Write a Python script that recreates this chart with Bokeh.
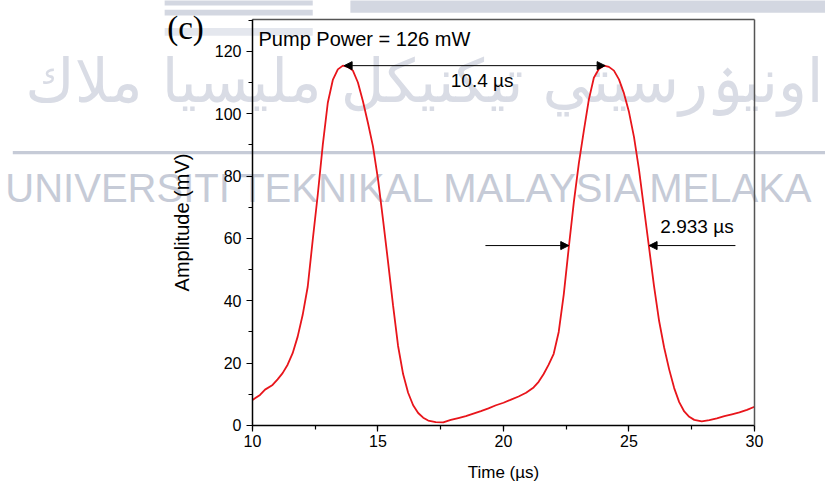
from bokeh.plotting import figure
from bokeh.models import (Range1d, SingleIntervalTicker, FixedTicker, LinearAxis, Label, Arrow,
                          NormalHead, BoxAnnotation, ColumnDataSource)
from bokeh.embed import file_html
from bokeh.resources import INLINE

# ---- data ----
time_us = [10.0, 10.3, 10.5, 10.8, 11.0, 11.2, 11.4, 11.6, 11.8, 12.0, 12.2, 12.4, 12.6, 12.8,
           13.0, 13.2, 13.4, 13.6, 13.8, 14.0, 14.2, 14.4, 14.6, 14.8, 15.0, 15.2, 15.4, 15.6,
           15.8, 16.0, 16.2, 16.4, 16.6, 16.8, 17.0, 17.3, 17.6, 17.9, 18.2, 18.5, 18.8, 19.1,
           19.4, 19.7, 20.0, 20.3, 20.6, 20.9, 21.2, 21.4, 21.6, 21.8, 22.0, 22.2, 22.4, 22.6,
           22.8, 23.0, 23.2, 23.4, 23.6, 23.8, 24.0, 24.2, 24.4, 24.6, 24.8, 25.0, 25.2, 25.4,
           25.6, 25.8, 26.0, 26.2, 26.4, 26.6, 26.8, 27.0, 27.2, 27.4, 27.6, 27.9, 28.2, 28.5,
           28.8, 29.1, 29.4, 29.7, 30.0]
amplitude_mv = [8.2, 9.8, 11.5, 13.0, 14.8, 16.8, 19.5, 23.2, 28.5, 35.5, 44.5, 59.5, 74.0, 90.0,
                103.5, 110.8, 114.2, 115.4, 115.0, 113.8, 110.0, 104.0, 97.0, 89.5, 79.0, 66.0, 52.5, 38.5,
                25.5, 16.5, 10.5, 6.5, 4.0, 2.5, 1.6, 1.1, 1.0, 1.8, 2.4, 3.0, 3.8, 4.6,
                5.5, 6.5, 7.3, 8.3, 9.3, 10.5, 12.2, 14.0, 16.5, 19.5, 23.0, 30.0, 42.0, 57.0,
                71.5, 84.0, 94.5, 104.5, 111.5, 114.3, 115.4, 115.0, 113.8, 111.0, 106.5, 100.5, 92.5, 82.0,
                69.5, 57.0, 44.5, 33.5, 25.0, 18.0, 12.0, 7.5, 4.5, 2.8, 1.8, 1.3, 1.7, 2.3,
                3.0, 3.6, 4.2, 5.0, 6.0]

x_bounds = (10, 30)
y_bounds = (0, 130.2)
peak_times = [13.65, 24.05]
peak_level = 115.4
fwhm_left, fwhm_right = 22.6, 25.8
half_level = 57.7
period_label = "10.4 µs"
fwhm_label = "2.933 µs"
power_label = "Pump Power = 126 mW"
panel_label = "(c)"
watermark_latin = "UNIVERSITI TEKNIKAL MALAYSIA MELAKA"
watermark_jawi = "اونيۏرسيتي تيكنيكل مليسيا ملاك"

FONT = "Liberation Sans"

# The frame covers the whole page so that the panel label and the watermark,
# which lie outside the axes box, are not clipped; the axes sit at fixed places.
p = figure(width=825, height=488, output_backend="svg", toolbar_location=None, title=None,
           x_range=Range1d(-0.0398, 32.8287), y_range=Range1d(-20.203, 136.29),
           x_axis_location=None, y_axis_location=None, min_border=0)
p.background_fill_color = "white"
p.border_fill_color = "white"
p.grid.visible = False
p.outline_line_color = None

# ---- watermark / banner remnants ----
wm_col = "#c6cbd7"
band_col = "#d3d7e1"
for (l, r, b, t, c) in [(6.5, 12.4, 134.7, 137.0, band_col),
                        (6.5, 12.4, 131.5, 133.3, band_col),
                        (13.9, 33.0, 132.4, 137.0, band_col),
                        (6.5, 12.4, 125.0, 127.5, "#e4e7ee")]:
    p.add_layout(BoxAnnotation(left=l, right=r, bottom=b, top=t, fill_color=c,
                               fill_alpha=1.0, line_color=None, level="underlay"))
p.add_layout(BoxAnnotation(left=0.45, right=33.0, bottom=87.0, top=88.0, fill_color=wm_col,
                           fill_alpha=1.0, line_color=None, level="underlay"))
p.add_layout(Label(x=16.3, y=76.3, text=watermark_latin,
                   text_align="center", text_baseline="middle", text_font=FONT,
                   text_font_size="40px", text_color=wm_col, level="underlay"))
p.add_layout(Label(x=32.75, y=110.6, text=watermark_jawi,
                   text_align="right", text_baseline="middle", text_font="DejaVu Sans",
                   text_font_size="60px", text_color="#d9dce5", level="underlay"))

# ---- curve ----
src = ColumnDataSource(dict(t=time_us, a=amplitude_mv))
p.line("t", "a", source=src, line_color="#e8151b", line_width=1.8)

# ---- axes ----
def style(ax):
    ax.axis_line_color = "black"
    ax.axis_line_width = 1.5
    ax.major_tick_line_color = "black"
    ax.minor_tick_line_color = "black"
    ax.major_tick_line_width = 1.2
    ax.minor_tick_line_width = 1.2
    ax.major_tick_out = 6
    ax.major_tick_in = 0
    ax.minor_tick_out = 4
    ax.minor_tick_in = 0
    ax.major_label_text_font = FONT
    ax.major_label_text_font_size = "16px"
    ax.major_label_text_color = "black"
    ax.axis_label_text_font = FONT
    ax.axis_label_text_font_style = "normal"
    ax.axis_label_text_color = "black"

xaxis = LinearAxis(fixed_location=y_bounds[0], bounds=x_bounds,
                   ticker=SingleIntervalTicker(interval=5, num_minor_ticks=2),
                   axis_label="Time (µs)")
style(xaxis)
xaxis.major_label_standoff = 4
xaxis.axis_label_text_font_size = "17px"
xaxis.axis_label_standoff = 12
p.add_layout(xaxis, "below")

yaxis = LinearAxis(fixed_location=x_bounds[0], bounds=y_bounds,
                   ticker=SingleIntervalTicker(interval=20, num_minor_ticks=2),
                   axis_label="Amplitude (mV)")
style(yaxis)
yaxis.major_label_standoff = 5
yaxis.axis_label_text_font_size = "20px"
yaxis.axis_label_standoff = 19
p.add_layout(yaxis, "left")

# box edges (top and right) as bare axes
top = LinearAxis(fixed_location=y_bounds[1], bounds=x_bounds, ticker=FixedTicker(ticks=[]),
                 axis_line_color="#555555", axis_line_width=1.5, major_label_text_font_size="0px")
p.add_layout(top, "above")
right = LinearAxis(fixed_location=x_bounds[1], bounds=y_bounds, ticker=FixedTicker(ticks=[]),
                   axis_line_color="#555555", axis_line_width=1.5, major_label_text_font_size="0px")
p.add_layout(right, "right")

# ---- annotations ----
def head():
    return NormalHead(size=8, fill_color="black", line_color="black", line_width=1)

p.add_layout(Arrow(start=head(), end=head(), x_start=peak_times[0], y_start=peak_level,
                   x_end=peak_times[1], y_end=peak_level, line_color="black", line_width=1))
p.add_layout(Arrow(end=head(), x_start=19.28, y_start=half_level, x_end=fwhm_left,
                   y_end=half_level, line_color="black", line_width=1))
p.add_layout(Arrow(end=head(), x_start=29.24, y_start=half_level, x_end=fwhm_right,
                   y_end=half_level, line_color="black", line_width=1))

p.add_layout(Label(x=17.9, y=110.6, text=period_label, text_align="left", text_baseline="middle",
                   text_font=FONT, text_font_size="19px", text_color="black"))
p.add_layout(Label(x=26.25, y=63.8, text=fwhm_label, text_align="left", text_baseline="middle",
                   text_font=FONT, text_font_size="19px", text_color="black"))
p.add_layout(Label(x=10.24, y=124.1, text=power_label, text_align="left", text_baseline="middle",
                   text_font=FONT, text_font_size="20px", text_color="black"))
p.add_layout(Label(x=6.6, y=127.5, text=panel_label, text_align="left", text_baseline="middle",
                   text_font="Liberation Serif", text_font_size="33px", text_color="black"))

open("out.html", "w").write(file_html(p, INLINE))
